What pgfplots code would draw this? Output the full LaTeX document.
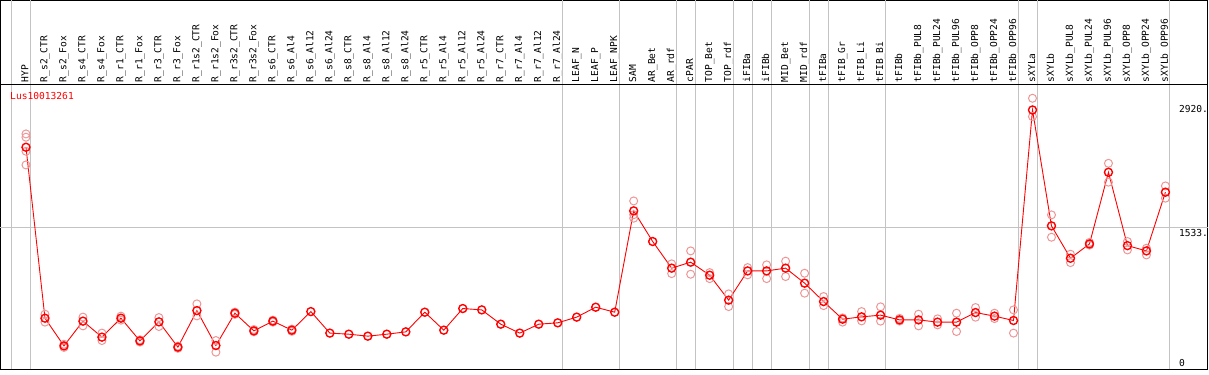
\documentclass[border=0pt]{standalone}
\usepackage{fontspec}
\usepackage{pgfplots}
\pgfplotsset{compat=1.18}
\newfontfamily\monofont{DejaVu Sans Mono}
\definecolor{mainred}{RGB}{255,0,0}
\definecolor{reppink}{RGB}{238,150,150}
\definecolor{gridgray}{RGB}{195,195,195}
\newcommand{\lf}{\monofont\fontsize{9.6bp}{10bp}\selectfont}
\pgfplotstableread{
k v
0 2435
1 522
2 212
3 489
4 310
5 522
6 268
7 481
8 198
9 607
10 216
11 578
12 380
13 489
14 388
15 596
16 355
17 343
18 321
19 343
20 369
21 589
22 388
23 630
24 615
25 455
26 355
27 455
28 470
29 534
30 645
31 589
32 1723
33 1380
34 1082
35 1149
36 1003
37 724
38 1051
39 1051
40 1082
41 914
42 708
43 511
44 537
45 556
46 503
47 503
48 478
49 478
50 585
51 545
52 496
53 2852
54 1555
55 1193
56 1353
57 2155
58 1334
59 1275
60 1932
}\maintab
\pgfplotstableread{
k v
0 2584
0 2547
0 2390
0 2237
1 567
1 478
2 230
2 195
3 534
3 436
4 355
4 272
5 545
5 500
6 280
6 255
7 529
7 429
8 210
8 185
9 682
9 548
10 272
10 142
11 590
11 565
12 395
12 370
13 500
13 478
14 400
14 375
32 1834
32 1641
32 1680
34 1130
34 1021
35 1275
35 1014
36 1032
36 965
37 794
37 652
38 1088
38 1007
39 1119
39 965
40 1160
40 988
41 1025
41 802
42 764
42 663
43 478
43 525
44 596
44 492
45 649
45 489
46 520
46 490
47 567
47 436
48 515
48 447
49 578
49 373
50 641
50 533
51 578
51 518
52 615
52 355
53 2983
53 2778
54 1678
54 1428
55 1238
55 1144
56 1370
56 1340
57 2255
57 2044
58 1380
58 1286
59 1305
59 1230
60 2002
60 1865
}\reptab
\begin{document}
\begin{tikzpicture}
\begin{axis}[
  scale only axis, width=1208bp, height=369bp,
  xmin=-1.342, xmax=62.237, ymin=-50, ymax=4077,
  axis line style={line width=1bp, black},
  clip=false,
  xtick={0,...,60},
  xticklabels={HYP,R\_s2\_CTR,R\_s2\_Fox,R\_s4\_CTR,R\_s4\_Fox,R\_r1\_CTR,R\_r1\_Fox,R\_r3\_CTR,R\_r3\_Fox,R\_r1s2\_CTR,R\_r1s2\_Fox,R\_r3s2\_CTR,R\_r3s2\_Fox,R\_s6\_CTR,R\_s6\_Al4,R\_s6\_Al12,R\_s6\_Al24,R\_s8\_CTR,R\_s8\_Al4,R\_s8\_Al12,R\_s8\_Al24,R\_r5\_CTR,R\_r5\_Al4,R\_r5\_Al12,R\_r5\_Al24,R\_r7\_CTR,R\_r7\_Al4,R\_r7\_Al12,R\_r7\_Al24,LEAF\_N,LEAF\_P,LEAF\_NPK,SAM,AR\_Bet,AR\_rdf,cPAR,TOP\_Bet,TOP\_rdf,iFIBa,iFIBb,MID\_Bet,MID\_rdf,tFIBa,tFIB\_Gr,tFIB\_Li,tFIB\_Bi,tFIBb,tFIBb\_PUL8,tFIBb\_PUL24,tFIBb\_PUL96,tFIBb\_OPP8,tFIBb\_OPP24,tFIBb\_OPP96,sXYLa,sXYLb,sXYLb\_PUL8,sXYLb\_PUL24,sXYLb\_PUL96,sXYLb\_OPP8,sXYLb\_OPP24,sXYLb\_OPP96},
  xticklabel pos=upper,
  x tick label style={font=\lf, yshift=-85bp, rotate=90, anchor=west, inner sep=3bp, text height=7bp, text depth=2bp},
  ytick={0,1533,2920},
  yticklabels={{\raisebox{7bp}[\height][\depth]{0}},1533.,2920.},
  yticklabel pos=right,
  y tick label style={font=\lf, anchor=north west, xshift=-30bp, inner sep=1bp},
  major tick length=0pt,
  tick style={draw=none},
  extra x ticks={-0.78,0.237,28.237,31.237,34.237,35.237,37.237,38.237,39.237,41.237,42.237,45.237,52.237,53.237,60.237},
  extra x tick labels={},
  extra x tick style={grid=major, major grid style={gridgray, line width=1bp}},
  extra y ticks={1533},
  extra y tick labels={},
  extra y tick style={grid=major, major grid style={gridgray, line width=1bp}},
]
\addplot[only marks, mark=o, mark size=4bp, mark options={reppink, line width=1bp}] table[x=k, y=v] {\reptab};
\addplot[mainred, line width=0.9bp, mark=o, mark size=4bp, mark options={mainred, line width=1.4bp}] table[x=k, y=v] {\maintab};
\draw[black, line width=1bp] (rel axis cs:0,0.771) -- (rel axis cs:1,0.771);
\node[anchor=north west, inner sep=0pt, text=mainred, font=\lf] at (rel axis cs:0.0079,0.7507) {Lus10013261};
\end{axis}
\end{tikzpicture}
\end{document}
